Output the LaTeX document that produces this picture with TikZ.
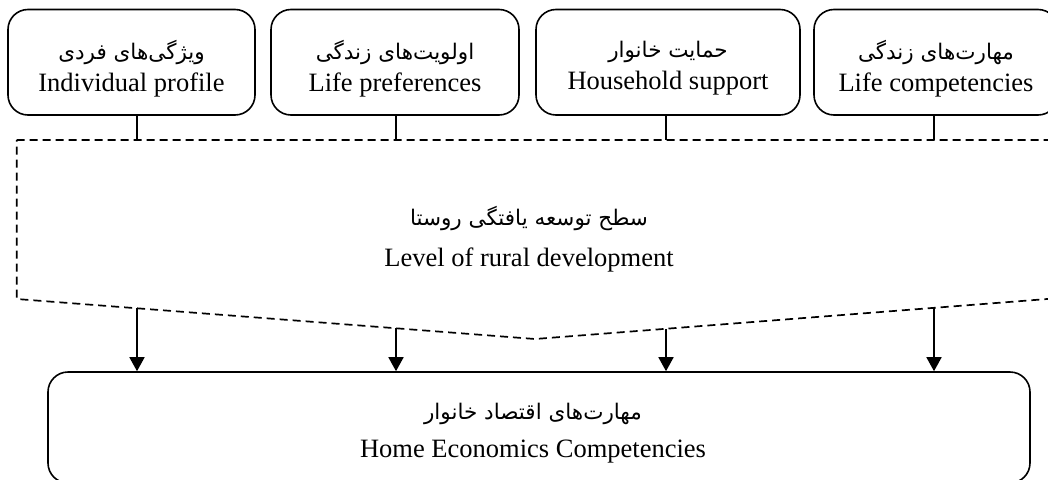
\documentclass[tikz,border=0pt]{standalone}
\usepackage{fontspec}
\setmainfont{Liberation Serif}
\newfontfamily\fafont[Script=Arabic]{DejaVu Sans}
\TeXXeTstate=1
\usetikzlibrary{arrows.meta}
\newcommand{\fa}[1]{{\fafont\fontsize{21.5}{26}\selectfont\beginR #1\endR}}
\begin{document}
\begin{tikzpicture}[x=1pt,y=-1pt,line width=1.6pt,
  box/.style={draw,rounded corners=20pt,inner sep=0pt},
  topbox/.style={box,minimum height=105.5pt},
  boxtext/.style={align=center,inner sep=0pt,font=\fontsize{26.5}{32}\selectfont},
  plain/.style={align=center,inner sep=0pt,font=\fontsize{26.5}{41}\selectfont},
  dashline/.style={line width=1.7pt,dash pattern=on 8pt off 5pt},
  link/.style={line width=1.6pt},
  arr/.style={line width=1.6pt,-{Triangle[length=14pt,width=15pt]}}]
\useasboundingbox (0,0) rectangle (1048,479);
\clip (0,0) rectangle (1048,479);
% top boxes
\node[topbox,minimum width=247pt] (b1) at (131.5,62.25) {};
\node[topbox,minimum width=248pt] (b2) at (395,62.25) {};
\node[topbox,minimum width=264pt] (b3) at (668,62.25) {};
\node[topbox,minimum width=244pt] (b4) at (936,62.25) {};
\node[boxtext] (b1t) at (b1.center) [yshift=-6pt] {\fa{ویژگی‌های فردی}\\Individual profile};
\node[boxtext] (b2t) at (b2.center) [yshift=-6pt] {\fa{اولویت‌های زندگی}\\Life preferences};
\node[boxtext] (b3t) at (b3.center) [yshift=-6pt] {\fa{حمایت خانوار}\\Household support};
\node[boxtext] (b4t) at (b4.center) [yshift=-6pt] {\fa{مهارت‌های زندگی}\\Life competencies};
% dashed region
\coordinate (tl) at (16.7,140);
\coordinate (tr) at (1060,140);
\coordinate (bl) at (16.7,299);
\coordinate (apex) at (535,339);
\coordinate (br) at (1060,298);
\draw[dashline] (tl) -- (tr) -- (br) -- (apex) -- (bl) -- cycle;
\node[plain] (mid) at (529,239) {\fa{سطح توسعه یافتگی روستا}\\Level of rural development};
% bottom box
\node[box,minimum width=982pt,minimum height=111pt] (bot) at (539,427.5) {};
\node[plain,font=\fontsize{26.5}{38}\selectfont] (botlabel) at (533,433) {\fa{مهارت‌های اقتصاد خانوار}\\Home Economics Competencies};
% connector points
\coordinate (t1) at (137,140);
\coordinate (t2) at (396,140);
\coordinate (t3) at (666,140);
\coordinate (t4) at (934,140);
\coordinate (d1) at (137,308.3);
\coordinate (d2) at (396,328.3);
\coordinate (d3) at (666,328.8);
\coordinate (d4) at (934,307.9);
\draw[link] (b1.south -| t1) -- (t1);
\draw[link] (b2.south -| t2) -- (t2);
\draw[link] (b3.south -| t3) -- (t3);
\draw[link] (b4.south -| t4) -- (t4);
\draw[arr] (d1) -- (d1 |- bot.north);
\draw[arr] (d2) -- (d2 |- bot.north);
\draw[arr] (d3) -- (d3 |- bot.north);
\draw[arr] (d4) -- (d4 |- bot.north);
\end{tikzpicture}
\end{document}
